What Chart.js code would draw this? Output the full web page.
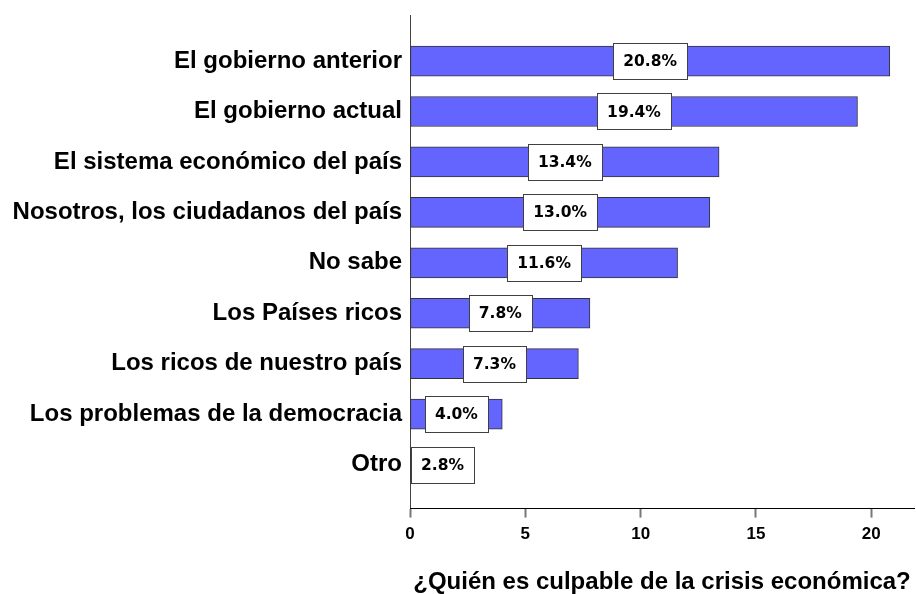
<!DOCTYPE html>
<html>
<head>
<meta charset="utf-8">
<title>¿Quién es culpable de la crisis económica?</title>
<script src="https://cdn.jsdelivr.net/npm/chart.js@4/dist/chart.umd.min.js"></script>
<style>
  html, body { margin: 0; padding: 0; background: #fff; }
  #chart-culpable { display: block; }
</style>
</head>
<body>
<canvas id="chart-culpable" width="916" height="594"></canvas>
<script>
/* ─── Données ───────────────────────────────────────────────────────── */
const categories = [
  'El gobierno anterior',
  'El gobierno actual',
  'El sistema económico del país',
  'Nosotros, los ciudadanos del país',
  'No sabe',
  'Los Países ricos',
  'Los ricos de nuestro país',
  'Los problemas de la democracia',
  'Otro'
];
const values = [20.8, 19.4, 13.4, 13.0, 11.6, 7.8, 7.3, 4.0, 2.8];
const xTicks = [0, 5, 10, 15, 20];
const axisTitle = '¿Quién es culpable de la crisis económica?';

const BAR = '#6464ff';
const FONT = '"Liberation Sans", Arial, sans-serif';

/* ─── Étiquettes encadrées au centre des barres ─────────────────────── */
const boxLabels = {
  id: 'boxLabels',
  afterDatasetsDraw(chart) {
    const ctx = chart.ctx;
    const meta = chart.getDatasetMeta(0);
    ctx.save();
    ctx.font = 'bold 15.5px "DejaVu Sans", sans-serif';
    ctx.textAlign = 'center';
    ctx.textBaseline = 'middle';
    meta.data.forEach((bar, i) => {
      const txt = values[i].toFixed(1) + '%';
      const cx = (bar.x + bar.base) / 2;
      const w = Math.round(ctx.measureText(txt).width + 20);
      const h = 36;
      const x0 = Math.round(cx - w / 2) + 0.5;
      const y0 = Math.round(bar.y - h / 2) + 0.5;
      ctx.fillStyle = '#fff';
      ctx.fillRect(x0, y0, w, h);
      ctx.strokeStyle = '#404040';
      ctx.lineWidth = 1;
      ctx.strokeRect(x0, y0, w, h);
      ctx.fillStyle = '#000';
      ctx.fillText(txt, cx, bar.y + 1);
    });
    ctx.restore();
  }
};

new Chart(document.getElementById('chart-culpable'), {
  type: 'bar',
  data: {
    datasets: [{
      data: values.map((v, i) => ({ x: v, y: i })),
      backgroundColor: BAR,
      borderColor: '#333',
      borderWidth: 1,
      borderSkipped: false,
      barThickness: 30,
    }]
  },
  options: {
    indexAxis: 'y',
    responsive: false,
    animation: false,
    layout: { padding: { top: 15, right: 2, bottom: 0, left: 0 } },
    plugins: {
      legend: { display: false },
      tooltip: { enabled: false }
    },
    scales: {
      y: {
        type: 'linear',
        offset: false,
        reverse: true,
        min: -0.913,
        max: 8.873,
        afterBuildTicks: s => { s.ticks = categories.map((c, i) => ({ value: i })); },
        afterFit: s => { s.width = 410; s.paddingTop = 0; s.paddingBottom = 0; },
        grid: { display: false, drawTicks: false },
        border: { display: true, color: '#444', width: 1 },
        ticks: {
          autoSkip: false,
          padding: 8,
          color: '#000',
          font: { family: FONT, size: 24, weight: 'bold' },
          callback: v => categories[v]
        }
      },
      x: {
        type: 'linear',
        min: 0,
        max: 21.85,
        afterBuildTicks: s => { s.ticks = xTicks.map(v => ({ value: v })); },
        grid: { drawOnChartArea: false, drawTicks: true, tickLength: 9, tickColor: '#777', tickWidth: 2 },
        border: { display: true, color: '#000', width: 1 },
        ticks: {
          padding: 7,
          color: '#000',
          font: { family: FONT, size: 17, weight: 'bold' }
        },
        title: {
          display: true,
          text: axisTitle,
          color: '#000',
          font: { family: FONT, size: 24, weight: 'bold', lineHeight: 1 },
          padding: { top: 18, bottom: 0 }
        }
      }
    }
  },
  plugins: [boxLabels]
});
</script>
</body>
</html>
